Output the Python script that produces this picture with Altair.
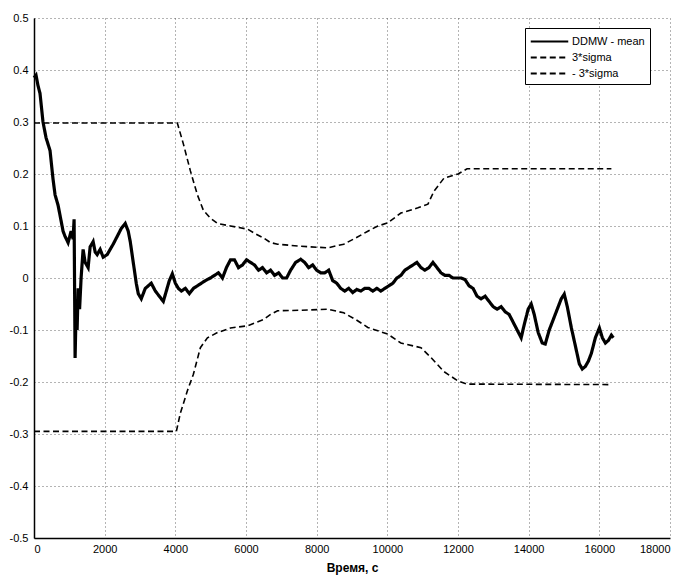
import altair as alt
import pandas as pd

# Mean estimate (s, value)
mean_t = [0, 57, 113, 170, 255, 340, 454, 539, 596, 681, 738, 823, 879, 965, 1050,
          1106, 1135, 1163, 1192, 1220, 1250, 1290, 1333, 1390, 1447, 1532, 1589, 1674,
          1731, 1787, 1872, 1958, 2071, 2156, 2241, 2355, 2468, 2582, 2667, 2724, 2809,
          2894, 2950, 3036, 3149, 3234, 3319, 3433, 3546, 3660, 3745, 3830, 3915, 4000,
          4085, 4170, 4284, 4397, 4511, 4624, 4738, 4851, 4993, 5107, 5220, 5334, 5447,
          5561, 5674, 5787, 5901, 6014, 6128, 6241, 6355, 6468, 6582, 6695, 6809, 6922,
          7036, 7149, 7263, 7405, 7546, 7660, 7773, 7887, 8000, 8114, 8227, 8341, 8454,
          8568, 8681, 8795, 8908, 9022, 9135, 9249, 9362, 9476, 9589, 9703, 9816, 9930,
          10043, 10156, 10270, 10383, 10497, 10610, 10724, 10837, 10951, 11064, 11178,
          11291, 11405, 11518, 11632, 11745, 11859, 11972, 12086, 12199, 12313, 12426,
          12540, 12653, 12767, 12880, 12994, 13107, 13220, 13334, 13447, 13561, 13674,
          13788, 13873, 13986, 14072, 14157, 14270, 14384, 14469, 14582, 14696, 14809,
          14922, 15007, 15093, 15206, 15320, 15433, 15518, 15604, 15689, 15774, 15887,
          16001, 16086, 16171, 16256, 16341, 16398]
mean_v = [0.385, 0.39, 0.37, 0.355, 0.30, 0.27, 0.245, 0.19, 0.16, 0.14, 0.12, 0.09,
          0.08, 0.068, 0.09, 0.075, 0.113, -0.154, -0.06, -0.10, -0.02, -0.06, 0.0,
          0.055, 0.03, 0.02, 0.06, 0.07, 0.05, 0.045, 0.055, 0.04, 0.045, 0.055, 0.065,
          0.08, 0.095, 0.105, 0.09, 0.07, 0.03, -0.01, -0.03, -0.04, -0.02, -0.015,
          -0.01, -0.025, -0.035, -0.045, -0.025, -0.005, 0.008, -0.01, -0.02, -0.025,
          -0.02, -0.03, -0.02, -0.015, -0.01, -0.005, 0.0, 0.005, 0.01, 0.0, 0.02,
          0.035, 0.035, 0.02, 0.025, 0.035, 0.03, 0.025, 0.015, 0.02, 0.01, 0.015,
          0.005, 0.01, 0.0, 0.0, 0.015, 0.03, 0.036, 0.03, 0.02, 0.025, 0.015, 0.01,
          0.01, 0.015, -0.005, -0.01, -0.02, -0.025, -0.02, -0.028, -0.022, -0.025,
          -0.02, -0.02, -0.025, -0.02, -0.025, -0.02, -0.015, -0.01, 0.0, 0.005, 0.015,
          0.02, 0.025, 0.03, 0.02, 0.015, 0.02, 0.03, 0.02, 0.01, 0.005, 0.005, 0.0,
          0.0, 0.0, -0.003, -0.015, -0.02, -0.035, -0.04, -0.035, -0.045, -0.055,
          -0.06, -0.055, -0.065, -0.07, -0.085, -0.10, -0.115, -0.09, -0.06, -0.05,
          -0.07, -0.105, -0.125, -0.127, -0.10, -0.08, -0.06, -0.04, -0.031, -0.055,
          -0.095, -0.13, -0.165, -0.175, -0.17, -0.16, -0.145, -0.115, -0.096, -0.115,
          -0.125, -0.12, -0.11, -0.115]

# Upper 3*sigma bound
up_t = [0, 4057, 4227, 4426, 4624, 4795, 4993, 5192, 5561, 6043, 6270, 6497, 6695,
        6894, 7546, 8312, 8766, 9107, 9447, 9731, 10015, 10383, 10866, 11149, 11320,
        11603, 12000, 12256, 16341]
up_v = [0.298, 0.298, 0.258, 0.206, 0.16, 0.13, 0.115, 0.105, 0.10, 0.094, 0.085,
        0.077, 0.068, 0.065, 0.061, 0.058, 0.065, 0.077, 0.09, 0.10, 0.106, 0.125,
        0.135, 0.142, 0.167, 0.192, 0.20, 0.21, 0.21]

# Lower -3*sigma bound
lo_t = [0, 4029, 4142, 4341, 4511, 4709, 4908, 5192, 5561, 6043, 6497, 6695, 6894,
        7546, 8312, 8766, 9107, 9447, 10015, 10383, 10951, 11235, 11603, 12000, 12256,
        16341]
lo_v = [-0.295, -0.295, -0.26, -0.217, -0.185, -0.134, -0.115, -0.105, -0.096, -0.092,
        -0.08, -0.07, -0.063, -0.062, -0.06, -0.067, -0.08, -0.095, -0.108, -0.125,
        -0.134, -0.153, -0.18, -0.198, -0.204, -0.205]

series_names = ["DDMW - mean", "3*sigma", "- 3*sigma"]
x_ticks = list(range(0, 18001, 2000))
y_ticks = [0.5, 0.4, 0.3, 0.2, 0.1, 0.0, -0.1, -0.2, -0.3, -0.4, -0.5]

frames = []
for name, ts, vs in zip(series_names, [mean_t, up_t, lo_t], [mean_v, up_v, lo_v]):
    frames.append(pd.DataFrame({"t": ts, "v": vs, "series": name}))
df = pd.concat(frames, ignore_index=True)

FONT = "Liberation Sans"

chart = alt.Chart(df).mark_line(color="black", strokeCap="butt").encode(
    x=alt.X("t:Q", scale=alt.Scale(domain=[0, 18000], nice=False),
            axis=alt.Axis(values=x_ticks, format="d", title="Время, с")),
    y=alt.Y("v:Q", scale=alt.Scale(domain=[-0.5, 0.5], nice=False),
            axis=alt.Axis(values=y_ticks, title=None,
                          labelExpr="datum.value == 0 ? '0' : replace(format(datum.value, '.1f'), '\u2212', '-')")),
    strokeDash=alt.StrokeDash("series:N",
                              scale=alt.Scale(domain=series_names, range=[[1, 0], [6, 3.5], [6, 3.5]]),
                              legend=alt.Legend(title=None, orient="none", legendX=491, legendY=10,
                                                symbolStrokeWidth=1.8)),
    strokeWidth=alt.condition("datum.series === 'DDMW - mean'", alt.value(3.2), alt.value(1.6)),
    detail="series:N",
    order="t:Q",
).properties(
    width=636, height=520,
    autosize=alt.AutoSizeParams(type="none"),
    padding={"left": 34, "top": 18, "right": 18, "bottom": 40},
).configure_view(
    strokeWidth=0
).configure_axis(
    grid=True,
    gridColor="#444444",
    gridDash=[1, 3],
    gridWidth=1,
    gridOpacity=0.8,
    domainColor="black",
    domainWidth=1.5,
    ticks=False,
    labelFont=FONT,
    labelFontSize=11,
    labelColor="black",
    titleFont=FONT,
    titleFontSize=12,
    titleFontWeight="bold",
    titleColor="black",
).configure_axisX(
    labelPadding=5,
    titlePadding=8,
).configure_axisY(
    labelPadding=6,
).configure_legend(
    symbolType="M-2.5,0H2.5",
    symbolSize=225,
    symbolOffset=11,
    symbolStrokeColor="black",
    labelFont=FONT,
    labelFontSize=11,
    labelColor="black",
    labelOffset=14,
    strokeColor="black",
    fillColor="white",
    padding=5,
    rowPadding=2,
)

chart.save("out.html", embed_options={"renderer": "svg", "actions": False})
